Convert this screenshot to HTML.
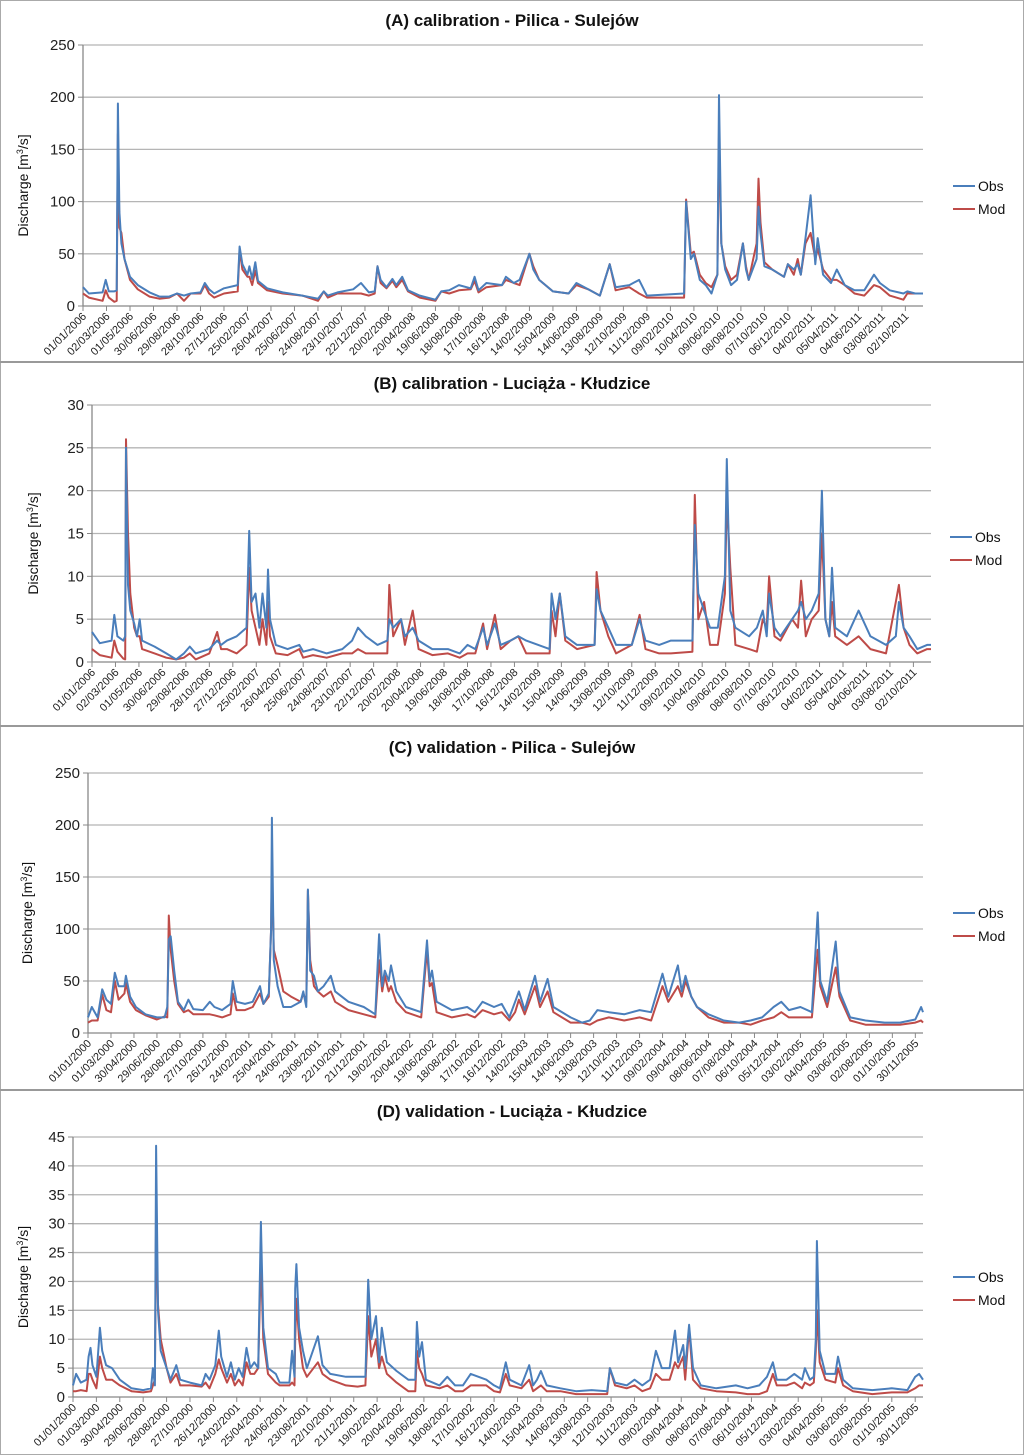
<!DOCTYPE html>
<html><head><meta charset="utf-8"><style>
html,body{margin:0;padding:0;background:#fff}
svg{display:block;font-family:"Liberation Sans","Noto Sans CJK JP",sans-serif}
</style></head><body>
<svg id="chart" width="1024" height="1455" viewBox="0 0 1024 1455" xmlns="http://www.w3.org/2000/svg">
<rect x="0.5" y="0.5" width="1023" height="1454" fill="#fff" stroke="#aaa"/>
<line x1="0" y1="362" x2="1024" y2="362" stroke="#999" stroke-width="2"/>
<line x1="0" y1="726" x2="1024" y2="726" stroke="#999" stroke-width="2"/>
<line x1="0" y1="1090" x2="1024" y2="1090" stroke="#999" stroke-width="2"/>
</svg>
<script>
// ---- Panel A: calibration Pilica - Sulejow (days since 01/01/2006) ----
const aDays=[0,15,50,58,66,80,86,89,93,98,106,120,140,170,195,220,240,258,275,300,311,322,335,360,395,400,407,420,425,432,440,447,470,510,560,600,615,625,650,690,710,730,745,752,760,775,790,800,815,830,860,900,915,935,960,990,1000,1010,1030,1070,1080,1100,1115,1140,1150,1165,1200,1240,1260,1290,1320,1345,1360,1395,1420,1440,1535,1540,1552,1560,1575,1590,1605,1620,1624,1630,1640,1655,1670,1685,1693,1700,1720,1725,1730,1740,1760,1790,1800,1815,1825,1833,1845,1858,1870,1876,1890,1910,1925,1945,1970,1995,2020,2035,2060,2095,2105,2125,2145];
const aObs=[18,12,13,25,14,14,15,194,90,60,45,28,20,13,9,9,12,10,12,13,22,16,12,17,20,57,40,30,38,26,42,24,17,13,10,7,14,10,13,16,22,13,14,38,25,18,26,20,28,15,10,6,14,15,20,17,28,15,22,20,28,22,25,50,35,25,14,12,22,16,10,40,18,20,25,10,12,100,45,50,25,20,12,30,202,60,35,20,25,60,35,25,45,95,70,38,35,28,40,35,40,30,65,106,40,65,30,22,35,20,15,15,30,22,15,12,14,12,12];
const aMod=[12,8,5,15,8,4,5,165,75,70,45,25,16,9,7,8,12,5,12,12,20,12,8,12,14,54,35,28,28,20,34,22,15,12,10,5,14,8,12,12,12,10,12,38,22,17,24,18,25,14,8,5,14,12,15,16,24,13,18,20,25,22,20,50,38,25,14,12,20,16,10,40,15,18,12,8,8,102,50,52,30,22,18,30,166,60,38,25,30,60,38,25,60,122,80,42,35,28,40,30,45,30,60,70,45,55,35,25,25,20,12,10,20,18,10,6,12,12,12];
// ---- Panel B: calibration Luciaza - Kludzice ----
const bDays=[0,20,50,57,65,80,85,87,92,98,108,115,122,128,160,190,215,235,250,265,300,320,330,345,370,395,402,408,418,428,436,446,450,455,470,500,530,540,565,600,640,665,680,700,730,755,760,770,790,800,820,835,870,910,940,960,980,1000,1010,1030,1045,1070,1090,1110,1170,1175,1185,1196,1210,1240,1285,1290,1300,1320,1340,1380,1400,1415,1450,1480,1535,1541,1550,1565,1580,1600,1618,1623,1632,1645,1680,1700,1715,1725,1731,1745,1760,1790,1805,1813,1825,1840,1858,1866,1875,1885,1892,1900,1930,1960,1990,2030,2055,2063,2075,2090,2110,2135,2145];
const bObs=[3.5,2.2,2.5,5.5,3,2.5,3,25,9,6,4.5,3,5,2.5,1.8,1,0.3,1,1.8,1,1.5,2.5,2,2.5,3,4,15.3,7,8,4,8,4,10.8,5,2,1.5,2,1.2,1.5,1,1.5,2.5,4,3,2,2.5,5,4,5,3,4,2.5,1.5,1.5,1,2,1.5,4,2,4.5,2,2.5,3,2.5,1.5,8,5,8,3,2,2,8.5,6,4,2,2,5,2.5,2,2.5,2.5,16,8,6,4,4,10,23.7,6,4,3,4,6,3,8,4,3,5,6,7,5,6,8,20,5,3,11,4,3,6,3,2,3,7,4,3,1.5,2,2];
const bMod=[1.5,0.8,0.5,2.5,1.2,0.4,0.3,26,15,8,4,3,3,1.5,1,0.5,0.3,0.5,1,0.3,1,3.5,1.5,1.5,1,2,11,6,4,2,5,2,7,3,1,0.8,1.5,0.5,0.8,0.5,1,1,1.5,1,1,1,9,3,5,2,6,1.5,0.8,1,0.5,1,1,4.5,1.5,5.5,1.5,2.5,3,1,1,6,3,8,2.5,1.5,2,10.5,6,3,1,2,5.5,1.5,1,1,1.2,19.5,5,7,2,2,8,19,11,2,1.5,1.2,5,4,10,3,2.5,5,4,9.5,3,5,6,15,5,3,7,3,2,3,1.5,1,7,9,4,2,1,1.5,1.5];
// ---- Panel C: validation Pilica - Sulejow (days since 01/01/2000) ----
const cDays=[0,10,25,37,48,60,70,80,95,99,110,125,150,180,200,207,211,216,225,235,250,262,275,300,318,330,350,372,378,388,410,430,449,458,472,478,480,485,495,510,530,555,562,570,574,580,590,600,615,634,645,680,720,750,760,768,775,785,791,805,830,870,885,892,898,910,950,990,1010,1030,1060,1080,1100,1115,1125,1140,1167,1180,1200,1215,1260,1290,1310,1330,1360,1400,1440,1470,1500,1515,1540,1550,1560,1575,1590,1620,1660,1700,1730,1760,1790,1810,1830,1860,1890,1905,1912,1930,1952,1962,1990,2030,2080,2120,2160,2175,2180];
const cObs=[15,25,15,42,32,28,58,45,45,55,35,25,18,15,15,25,90,93,60,30,22,32,23,22,30,25,22,28,50,30,28,30,45,28,38,100,207,70,45,25,25,30,40,25,138,60,55,40,45,55,40,30,25,18,95,45,60,50,65,40,25,20,89,50,60,30,22,25,20,30,25,28,15,30,40,22,55,30,52,25,15,10,12,22,20,18,22,20,57,35,65,40,55,35,25,18,12,10,12,15,25,30,22,25,20,116,50,30,88,40,15,12,10,10,13,25,20];
const cMod=[10,12,12,37,22,20,50,32,38,48,30,22,17,13,16,15,113,80,50,28,20,22,18,18,18,17,15,18,38,22,22,25,38,28,35,100,160,80,65,40,35,30,38,30,137,70,45,40,35,40,30,22,18,15,70,40,55,40,45,30,20,15,80,45,48,20,15,18,15,22,18,20,12,20,32,18,45,25,40,20,10,10,8,12,15,12,15,12,45,30,45,35,50,35,25,15,10,10,8,12,15,20,15,15,15,80,45,25,63,35,12,8,8,8,10,12,10];
// ---- Panel D: validation Luciaza - Kludzice ----
const dDays=[0,8,20,35,40,45,50,60,69,75,85,100,120,150,180,200,205,210,213,218,225,240,250,265,275,300,330,340,350,365,374,380,395,405,415,425,435,445,455,465,475,482,488,500,520,530,545,555,562,568,570,573,580,590,600,628,640,660,700,730,750,757,765,777,785,792,805,830,860,878,882,888,895,905,940,960,980,1000,1020,1040,1060,1080,1095,1110,1120,1150,1170,1180,1190,1200,1215,1250,1290,1330,1370,1377,1390,1420,1440,1460,1480,1495,1510,1530,1544,1552,1565,1570,1580,1590,1610,1650,1700,1730,1760,1780,1795,1805,1830,1850,1870,1877,1890,1900,1905,1908,1915,1930,1955,1962,1975,2000,2050,2100,2140,2160,2170,2180];
const dObs=[2,4,2.5,3,7,8.5,5.5,3.5,12,8,5.5,5,3,1.5,1.2,1.5,5,2,43.5,15,8,5,3,5.5,3,2.5,2,4,3,5.5,11.5,7,3.5,6,3,5,3.5,8.5,5,6,5,30.3,12,5,4,2.5,2.5,2.5,8,3.5,18.8,23,12,8,5,10.5,5.5,4,3.5,3.5,3.5,20.3,10,14,6,12,6,4.5,3,3,13,7,9.5,3,2,3.5,2,2,4,3.5,3,2,1.5,6,3,2,5.5,2,3,4.5,2,1.5,1,1.2,1,5,2.5,2,3,2,3,8,5,5,11.5,6,9,5,12.5,5,2,1.5,2,1.5,2,3.5,6,3,3,4,3,5,3,3.5,10,27,8,4,4,7,3,1.5,1.2,1.5,1.2,3.5,4,3];
const dMod=[1,1,1.2,1,4,4,3,1.5,7,5,3,3,2,1,0.8,1,2,3,30.5,16,10,5,2.5,4,2,2,1.8,2.5,1.5,4,6.5,5,2.5,4,2,3,2,6,4,4,5,24,10,4,2.5,2,2,2,2.5,2,10,17,10,5,3.5,6,4,3,2,1.8,2,14,7,10,5,7,4,2.5,1,1,8,5,4,2,1.5,2,1,1,2,2,2,1,0.8,4,2,1.5,3,1,1.5,2,1,1,0.5,0.5,0.5,5,2,1.5,2,1,1.5,4,3,3,6,5,7,3,12,3,1.5,1,0.8,0.5,0.5,1,4,2,2,2.5,1.5,2.5,2,2.5,8,15,6,3,2.5,5,2,1,0.5,0.8,0.8,1.5,2,2];

const NS='http://www.w3.org/2000/svg';
const svg=document.getElementById('chart');
function mk(tag,attrs,parent){const e=document.createElementNS(NS,tag);for(const k in attrs)e.setAttribute(k,attrs[k]);(parent||svg).appendChild(e);return e;}
function fmtDate(d){const p=n=>String(n).padStart(2,'0');return p(d.getUTCDate())+'/'+p(d.getUTCMonth()+1)+'/'+d.getUTCFullYear();}

const panels=[
 {id:'a',title:'(A) calibration - Pilica - Sulejów',x0:83,x1:923,yT:45,yB:306,max:250,step:50,span:2145,year:2006,nT:36,titleY:20,ylx:28,legX:953,legY:186,days:aDays,obs:aObs,mod:aMod},
 {id:'b',title:'(B) calibration - Luciąża - Kłudzice',x0:92,x1:931,yT:405,yB:662,max:30,step:5,span:2145,year:2006,nT:36,titleY:383,ylx:38,legX:950,legY:537,days:bDays,obs:bObs,mod:bMod},
 {id:'c',title:'(C) validation - Pilica - Sulejów',x0:88,x1:923,yT:773,yB:1033,max:250,step:50,span:2180,year:2000,nT:37,titleY:747,ylx:32,legX:953,legY:913,days:cDays,obs:cObs,mod:cMod},
 {id:'d',title:'(D) validation - Luciąża - Kłudzice',x0:73,x1:923,yT:1137,yB:1397,max:45,step:5,span:2180,year:2000,nT:37,titleY:1111,ylx:28,legX:953,legY:1277,days:dDays,obs:dObs,mod:dMod}
];

panels.forEach(p=>{
 const g=mk('g',{});
 
 
 const xs=d=>p.x0+(p.x1-p.x0)*d/p.span;
 const ys=v=>p.yB-(p.yB-p.yT)*v/p.max;
 const t=mk('text',{x:512,y:p.titleY+6,'text-anchor':'middle','font-size':'17','font-weight':'bold',fill:'#111'},g);
 t.textContent=p.title;
 
 
 for(let v=0;v<=p.max;v+=p.step){
  const y=ys(v);
  const gl=mk('line',{x1:p.x0,x2:p.x1,y1:y,y2:y,stroke:v===0?'#888':'#b5b5b5','stroke-width':'1.3'},g);
  
  
  mk('line',{x1:p.x0-5,x2:p.x0,y1:y,y2:y,stroke:'#888'},g);
  const tl=mk('text',{x:p.x0-8,y:y+5,'text-anchor':'end','font-size':'15',fill:'#222'},g);
  tl.textContent=v;
  
  
 }
 const ax=mk('line',{x1:p.x0,x2:p.x0,y1:p.yT,y2:p.yB,stroke:'#888','stroke-width':'1.3'},g);
 
 
 const start=Date.UTC(p.year,0,1);
 for(let i=0;i<p.nT;i++){
  const d=i*60;const x=xs(d);
  mk('line',{x1:x,x2:x,y1:p.yB,y2:p.yB+5,stroke:'#888'},g);
  const lab=mk('text',{x:x+4,y:p.yB+11,'text-anchor':'end','font-size':'11',fill:'#222',transform:'rotate(-45 '+(x+4)+' '+(p.yB+11)+')'},g);
  lab.textContent=fmtDate(new Date(start+d*86400000));
  
  
 }
 const cy=(p.yT+p.yB)/2+10;
 const yl=mk('text',{x:p.ylx,y:cy,'text-anchor':'middle','font-size':'14',fill:'#111',transform:'rotate(-90 '+p.ylx+' '+cy+')'},g);
 yl.innerHTML='Discharge [m<tspan baseline-shift="super" font-size="9">3</tspan>/s]';
 
 
 [['mod','#be4b48',p.mod],['obs','#4a7ebb',p.obs]].forEach(([nm,col,vals])=>{
  const pts=p.days.map((d,i)=>xs(d).toFixed(1)+','+ys(vals[i]).toFixed(1)).join(' ');
  const pl=mk('polyline',{points:pts,fill:'none',stroke:col,'stroke-width':'2','stroke-linejoin':'round'},g);
  
  
 });
 [['Obs','#4a7ebb',0],['Mod','#be4b48',23]].forEach(([nm,col,off])=>{
  const le=mk('g',{},g);
  
  
  mk('line',{x1:p.legX,x2:p.legX+22,y1:p.legY+off,y2:p.legY+off,stroke:col,'stroke-width':'2'},le);
  const lt=mk('text',{x:p.legX+25,y:p.legY+off+5,'font-size':'14',fill:'#111'},le);
  lt.textContent=nm;
 });
});
</script>
</body></html>
